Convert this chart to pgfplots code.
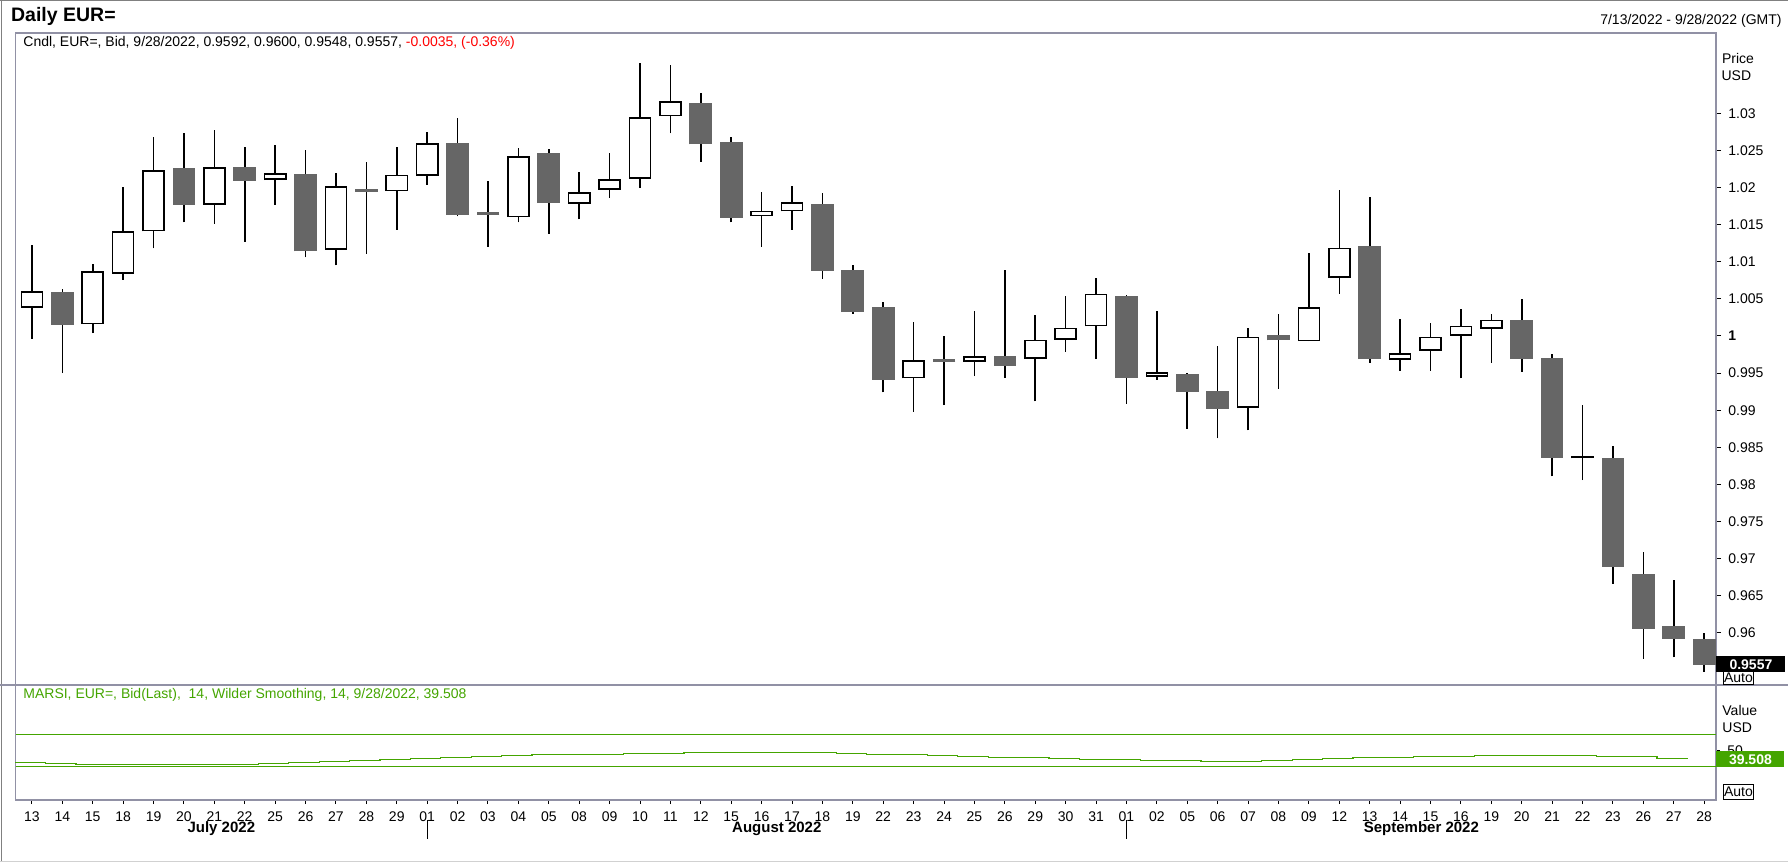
\documentclass[border=0pt]{standalone}
\usepackage{fontspec}
\setmainfont{Liberation Sans}
\usepackage{pgfplots}
\usepackage{pgfplotstable}
\pgfplotsset{compat=1.18}

\definecolor{downgray}{RGB}{102,102,102}
\definecolor{framegray}{RGB}{145,145,165}
\definecolor{rsigreen}{RGB}{68,165,0}
\definecolor{hdrred}{RGB}{255,0,0}

% daily EUR= bid candles, i = trading day index (0 = 13 Jul 2022)
\pgfplotstableread{
i  o      h      l      c
0  1.0038 1.0123 0.9996 1.0060
2  1.0016 1.0097 1.0004 1.0087
3  1.0084 1.0201 1.0076 1.0141
4  1.0141 1.0268 1.0118 1.0223
6  1.0177 1.0278 1.0151 1.0227
8  1.0210 1.0257 1.0177 1.0219
10 1.0116 1.0220 1.0095 1.0202
12 1.0195 1.0255 1.0143 1.0217
13 1.0216 1.0275 1.0204 1.0260
16 1.0160 1.0253 1.0153 1.0242
18 1.0178 1.0221 1.0157 1.0194
19 1.0197 1.0247 1.0186 1.0211
20 1.0212 1.0368 1.0200 1.0295
21 1.0296 1.0365 1.0273 1.0316
24 1.0161 1.0194 1.0120 1.0169
25 1.0168 1.0202 1.0143 1.0180
29 0.9943 1.0019 0.9898 0.9967
31 0.9965 1.0034 0.9946 0.9973
33 0.9969 1.0028 0.9912 0.9995
34 0.9995 1.0054 0.9979 1.0011
35 1.0013 1.0078 0.9969 1.0057
37 0.9945 1.0034 0.9941 0.9951
40 0.9903 1.0011 0.9873 0.9999
42 0.9993 1.0112 0.9993 1.0039
43 1.0078 1.0197 1.0057 1.0119
45 0.9968 1.0023 0.9953 0.9977
46 0.9980 1.0018 0.9953 0.9999
47 1.0000 1.0036 0.9943 1.0014
48 1.0010 1.0030 0.9964 1.0022
51 0.9835 0.9907 0.9806 0.9839
}\upcandles

\pgfplotstableread{
i  o      h      l      c
1  1.0059 1.0063 0.9950 1.0015
5  1.0226 1.0273 1.0153 1.0177
7  1.0228 1.0255 1.0127 1.0209
9  1.0218 1.0251 1.0106 1.0114
14 1.0260 1.0294 1.0161 1.0163
17 1.0247 1.0252 1.0138 1.0179
22 1.0314 1.0327 1.0235 1.0258
23 1.0261 1.0268 1.0153 1.0159
26 1.0178 1.0193 1.0077 1.0088
27 1.0089 1.0096 1.0030 1.0032
28 1.0039 1.0046 0.9924 0.9941
32 0.9973 1.0089 0.9944 0.9960
36 1.0054 1.0055 0.9909 0.9944
38 0.9949 0.9950 0.9875 0.9925
39 0.9926 0.9987 0.9862 0.9902
41 1.0001 1.0030 0.9929 0.9994
44 1.0121 1.0187 0.9964 0.9969
49 1.0022 1.0050 0.9952 0.9969
50 0.9970 0.9976 0.9811 0.9836
52 0.9836 0.9852 0.9666 0.9689
53 0.9679 0.9709 0.9565 0.9606
54 0.9609 0.9671 0.9567 0.9592
55 0.9592 0.9600 0.9548 0.9557
}\downcandles

\pgfplotstableread{
i  o      h      l      c
11 1.0196 1.0234 1.0111 1.0196
15 1.0165 1.0209 1.0120 1.0165
30 0.9967 1.0000 0.9907 0.9967
}\dojis

% MARSI 14, Wilder smoothing
\pgfplotstableread{
i  v
0  35.0
1  33.8
2  32.5
3  32.5
4  32.5
5  32.5
6  32.5
7  32.5
8  33.8
9  35.0
10 36.3
11 37.0
12 38.8
13 40.0
14 41.3
15 42.5
16 43.8
17 45.0
18 45.0
19 45.0
20 46.3
21 46.3
22 47.5
23 47.5
24 47.5
25 47.5
26 47.5
27 46.3
28 45.0
29 45.0
30 43.8
31 42.5
32 41.3
33 41.3
34 40.0
35 38.8
36 38.8
37 37.5
38 37.5
39 36.3
40 36.3
41 37.5
42 38.8
43 40.0
44 41.3
45 41.3
46 42.5
47 42.5
48 43.8
49 43.8
50 43.8
51 43.8
52 42.5
53 41.8
54 40.0
55 39.508
}\rsi

\newcommand{\lbl}{\fontsize{7}{8.4}\selectfont}

\pgfplotsset{
  wicks/.style={forget plot, draw=none, mark=none,
    error bars/.cd, y dir=plus, y explicit, error mark=none,
    error bar style={draw=black, solid, line width=0.8pt}},
  bodies/.style 2 args={forget plot, draw=none, mark=none,
    error bars/.cd, y dir=plus, y explicit, error mark=none,
    error bar style={draw=#1, solid, line width=#2}},
}

\begin{document}
\begin{tikzpicture}
\useasboundingbox (0,0) rectangle (894pt,-431pt);

% outer frame
\draw[gray, line width=0.7pt] (0,-0.4pt) -- (894pt,-0.4pt);
\draw[gray, line width=0.7pt] (0.8pt,0) -- (0.8pt,-431pt);
\draw[black!18, line width=0.7pt] (0,-430.6pt) -- (894pt,-430.6pt);
\draw[framegray, line width=0.6pt] (0,-342.5pt) -- (894pt,-342.5pt);

\node[anchor=west, inner sep=0pt, font=\fontsize{9.75}{11}\selectfont\bfseries] at (5.35pt,-8.4pt) {Daily EUR=};
\node[anchor=east, inner sep=0pt, font=\lbl] at (891pt,-10.35pt) {7/13/2022 - 9/28/2022 (GMT)};

\begin{axis}[
  at={(7.75pt,-16.5pt)}, anchor=north west,
  scale only axis, width=850.25pt, height=326pt,
  xmin=-0.54, xmax=55.39, ymin=0.95299, ymax=1.04081,
  axis line style={framegray, line width=0.6pt},
  xtick=\empty,
  ytick={0.96,0.965,0.97,0.975,0.98,0.985,0.99,0.995,1,1.005,1.01,1.015,1.02,1.025,1.03},
  yticklabels={0.96,0.965,0.97,0.975,0.98,0.985,0.99,0.995,\textbf{1},1.005,1.01,1.015,1.02,1.025,1.03},
  ytick pos=right, yticklabel pos=right,
  tick align=outside, major tick length=2.5pt,
  tick style={black, line width=0.5pt},
  yticklabel style={anchor=west, inner sep=0pt, xshift=3.5pt, font=\lbl},
]
% wicks
\addplot[wicks] table[x=i, y=l, y error plus expr={\thisrow{h}-\thisrow{l}}] {\upcandles};
\addplot[wicks] table[x=i, y=l, y error plus expr={\thisrow{h}-\thisrow{l}}] {\downcandles};
\addplot[wicks] table[x=i, y=l, y error plus expr={\thisrow{h}-\thisrow{l}}] {\dojis};
% falling bodies
\addplot[bodies={downgray}{11.35pt}] table[x=i, y=c, y error plus expr={\thisrow{o}-\thisrow{c}}] {\downcandles};
% rising bodies: black outline, white inside
\addplot[bodies={black}{11.35pt}] table[x=i, y=o, y error plus expr={\thisrow{c}-\thisrow{o}}] {\upcandles};
\addplot[bodies={white}{9.75pt}] table[x=i, y expr={\thisrow{o}+0.000216}, y error plus expr={max(\thisrow{c}-\thisrow{o}-0.000432,0)}] {\upcandles};
% unchanged days
\addplot[forget plot, only marks, mark=-, mark size=5.675pt, mark options={draw=downgray, line width=1.35pt}] table[x=i, y=c] {\dojis};
\end{axis}

\node[anchor=west, inner sep=0pt, font=\lbl] at (11.5pt,-21.65pt) {Cndl, EUR=, Bid, 9/28/2022, 0.9592, 0.9600, 0.9548, 0.9557, \textcolor{hdrred}{-0.0035, (-0.36\%)}};
\node[anchor=west, inner sep=0pt, font=\lbl] at (860.8pt,-29.15pt) {Price};
\node[anchor=west, inner sep=0pt, font=\lbl] at (860.6pt,-38pt) {USD};
\node[draw=black, fill=white, line width=0.4pt, inner sep=0pt, minimum width=14.7pt, minimum height=6.8pt, font=\lbl] at (869.2pt,-339pt) {Auto};
\node[fill=black, text=white, inner sep=0pt, minimum width=34.5pt, minimum height=8pt, anchor=west, font=\lbl\bfseries] at (858pt,-332.2pt) {0.9557};

\begin{axis}[
  at={(7.75pt,-342.5pt)}, anchor=north west,
  scale only axis, width=850.25pt, height=57.5pt,
  xmin=-0.54, xmax=55.39, ymin=-12.1, ymax=131.6,
  axis line style={framegray, line width=0.6pt},
  xtick={0,...,55},
  xticklabels={13,14,15,18,19,20,21,22,25,26,27,28,29,01,02,03,04,05,08,09,10,11,12,15,16,17,18,19,22,23,24,25,26,29,30,31,01,02,05,06,07,08,09,12,13,14,15,16,19,20,21,22,23,26,27,28},
  ytick={50}, yticklabels={50},
  xtick pos=bottom, ytick pos=right, yticklabel pos=right,
  tick align=outside, major tick length=2pt,
  tick style={black, line width=0.5pt},
  xticklabel style={anchor=north, inner sep=0pt, yshift=-3.5pt, font=\lbl},
  yticklabel style={anchor=west, inner sep=0pt, xshift=3.5pt, font=\lbl},
  clip=false,
]
\addplot[forget plot, rsigreen, line width=0.55pt] coordinates {(-0.54,70) (55.39,70)};
\addplot[forget plot, rsigreen, line width=0.55pt] coordinates {(-0.54,30) (55.39,30)};
\addplot[forget plot, const plot, rsigreen, line width=0.6pt, mark=none] table[x expr={\thisrow{i}-0.55}, y=v] {\rsi};
\node[font=\fontsize{7.5}{9}\selectfont\bfseries, inner sep=0pt] at (axis cs:6.23,-12.1) [yshift=-14.5pt] {July 2022};
\node[font=\fontsize{7.5}{9}\selectfont\bfseries, inner sep=0pt] at (axis cs:24.5,-12.1) [yshift=-14.5pt] {August 2022};
\node[font=\fontsize{7.5}{9}\selectfont\bfseries, inner sep=0pt] at (axis cs:45.7,-12.1) [yshift=-14.5pt] {September 2022};
\draw[black, line width=0.5pt] (axis cs:13,-12.1) ++(0pt,-10pt) -- ++(0pt,-9.5pt);
\draw[black, line width=0.5pt] (axis cs:36,-12.1) ++(0pt,-10pt) -- ++(0pt,-9.5pt);
\end{axis}

\node[anchor=west, inner sep=0pt, font=\lbl, text=rsigreen] at (11.5pt,-347.65pt) {MARSI, EUR=, Bid(Last),\ \ 14, Wilder Smoothing, 14, 9/28/2022, 39.508};
\node[anchor=west, inner sep=0pt, font=\lbl] at (861pt,-355.2pt) {Value};
\node[anchor=west, inner sep=0pt, font=\lbl] at (861pt,-364pt) {USD};
\node[fill=rsigreen, text=white, inner sep=0pt, minimum width=34pt, minimum height=8pt, anchor=west, font=\lbl\bfseries] at (858pt,-379.7pt) {39.508};
\node[draw=black, fill=white, line width=0.4pt, inner sep=0pt, minimum width=14.7pt, minimum height=7.5pt, font=\lbl] at (869.2pt,-395.9pt) {Auto};
\end{tikzpicture}
\end{document}
